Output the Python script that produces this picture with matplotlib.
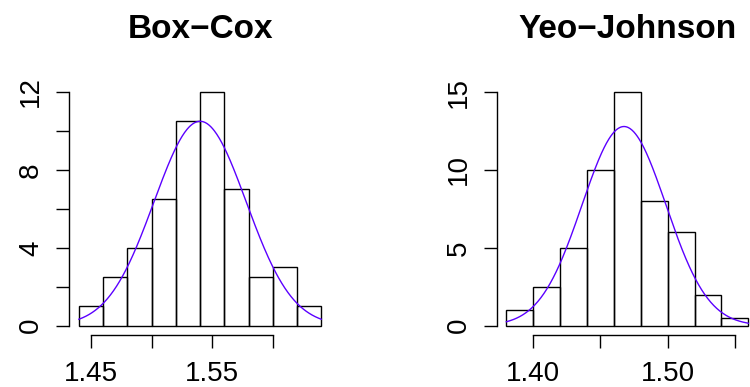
import numpy as np
import matplotlib
matplotlib.use("Agg")
import matplotlib.pyplot as plt

plt.rcParams['font.family'] = ['Liberation Sans', 'DejaVu Sans']

# Box-Cox transformed values: histogram (density scale)
bc_breaks = [1.44, 1.46, 1.48, 1.50, 1.52, 1.54, 1.56, 1.58, 1.60, 1.62, 1.64]
bc_density = [1.0, 2.5, 4.0, 6.5, 10.5, 12.0, 7.0, 2.5, 3.0, 1.0]
bc_mean, bc_sd = 1.540, 0.038
bc_xticks = [1.45, 1.50, 1.55, 1.60]
bc_xlabels = ['1.45', '', '1.55', '']
bc_yticks = [0, 2, 4, 6, 8, 10, 12]
bc_ylabels = ['0', '', '4', '', '8', '', '12']

# Yeo-Johnson transformed values
yj_breaks = [1.38, 1.40, 1.42, 1.44, 1.46, 1.48, 1.50, 1.52, 1.54, 1.56]
yj_density = [1.0, 2.5, 5.0, 10.0, 15.0, 8.0, 6.0, 2.0, 0.5]
yj_mean, yj_sd = 1.4675, 0.0312
yj_xticks = [1.40, 1.45, 1.50, 1.55]
yj_xlabels = ['1.40', '', '1.50', '']
yj_yticks = [0, 5, 10, 15]
yj_ylabels = ['0', '5', '10', '15']

CURVE = '#5B00FF'
W, H = 750, 387
fig = plt.figure(figsize=(W / 100, H / 100), dpi=100)


def panel(rect, title, breaks, dens, mu, sd, xt, xl, yt, yl):
    ax = fig.add_axes(rect)
    breaks = np.asarray(breaks)
    widths = np.diff(breaks)
    ax.bar(breaks[:-1], dens, width=widths, align='edge', fill=False,
           edgecolor='black', linewidth=1.0)
    xs = np.linspace(breaks[0], breaks[-1], 400)
    ys = np.exp(-0.5 * ((xs - mu) / sd) ** 2) / (sd * np.sqrt(2 * np.pi))
    ax.plot(xs, ys, color=CURVE, linewidth=1.0)

    xr = breaks[-1] - breaks[0]
    ax.set_xlim(breaks[0] - 0.04 * xr, breaks[-1] + 0.04 * xr)
    ymax = max(yt)
    ax.set_ylim(-0.04 * ymax, ymax * 1.04)

    for s in ('top', 'right'):
        ax.spines[s].set_visible(False)
    ax.spines['left'].set_bounds(yt[0], yt[-1])
    ax.spines['bottom'].set_bounds(xt[0], xt[-1])
    ax.spines['left'].set_linewidth(1.0)
    ax.spines['bottom'].set_linewidth(1.0)

    ax.set_xticks(xt, xl)
    ax.set_yticks(yt, yl)
    ax.tick_params(axis='both', length=9.6, width=1.0, labelsize=20)
    ax.tick_params(axis='x', pad=9.0)
    ax.tick_params(axis='y', pad=8.5)
    for lab in ax.get_yticklabels():
        lab.set_rotation(90)
        lab.set_va('center')
    ax.set_title(title, fontsize=24, fontweight='bold', pad=32)
    return ax


def rect_px(x0, x1, y0, y1):
    return [x0 / W, 1 - y1 / H, (x1 - x0) / W, (y1 - y0) / H]


panel(rect_px(69.2, 331.0, 82.7, 335.0), 'Box\u2212Cox', bc_breaks, bc_density,
      bc_mean, bc_sd, bc_xticks, bc_xlabels, bc_yticks, bc_ylabels)
panel(rect_px(496.7, 758.0, 82.7, 335.0), 'Yeo\u2212Johnson', yj_breaks, yj_density,
      yj_mean, yj_sd, yj_xticks, yj_xlabels, yj_yticks, yj_ylabels)

fig.savefig('out.png', dpi=100)
